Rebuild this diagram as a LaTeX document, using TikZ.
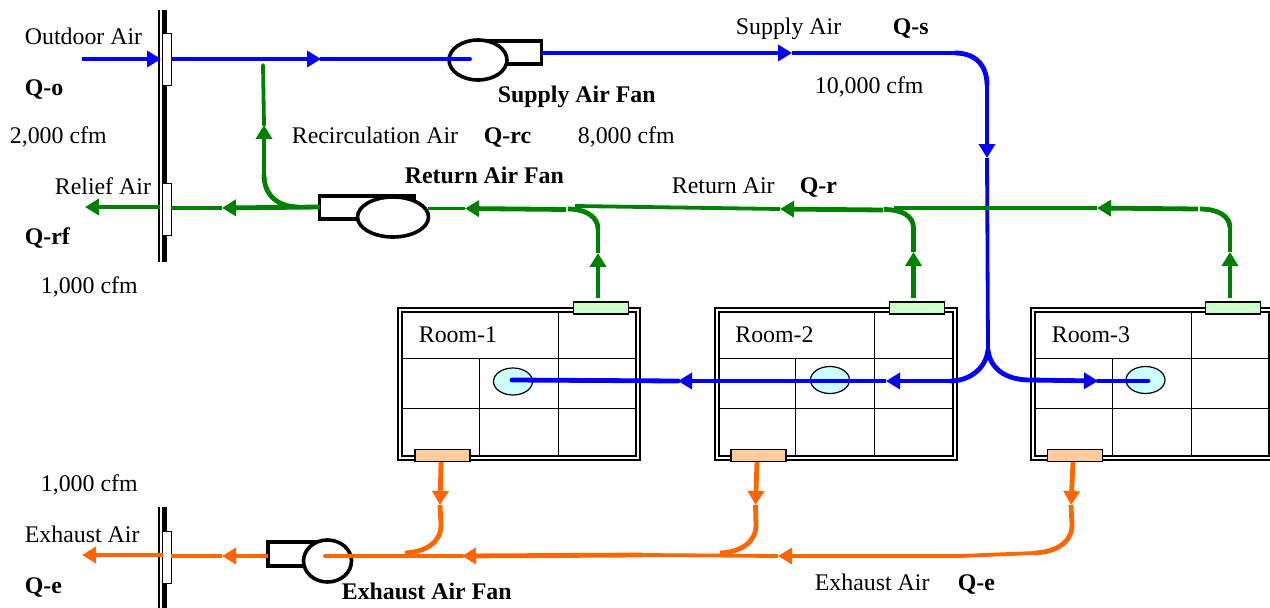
\documentclass[tikz,border=0pt]{standalone}
\usepackage{fontspec}
\setmainfont{Liberation Serif}
\usetikzlibrary{arrows.meta,shapes.geometric}
\definecolor{airblue}{HTML}{0000FF}
\definecolor{airgreen}{HTML}{008000}
\definecolor{airorange}{HTML}{FF6600}
\definecolor{grillegreen}{HTML}{CCFFCC}
\definecolor{grilleorange}{HTML}{FFCC99}
\definecolor{diffcyan}{HTML}{CCFFFF}
\tikzset{
  x=1pt,y=-1pt,
  lbl/.style={anchor=base west,inner sep=0pt,text=black,font=\fontsize{23.85}{26}\selectfont,xshift=-0.3pt,yshift=-1pt},
  lblb/.style={lbl,font=\fontsize{23.85}{26}\selectfont\bfseries},
  head/.style={-{Triangle[length=14pt,width=16pt]}},
  thick4/.style={line width=4.8pt},
  thin3/.style={line width=3.8pt},
  damper/.style={draw=black,fill=white,line width=1pt,minimum width=9pt,minimum height=52pt,inner sep=0pt,rectangle},
  roomouter/.style={draw=black,line width=2pt,minimum width=242pt,minimum height=152pt,inner sep=0pt,rectangle},
  roominner/.style={draw=black,line width=2pt,minimum width=234pt,minimum height=144pt,inner sep=0pt,rectangle},
  grid/.style={draw=black,line width=1pt},
  retgrille/.style={draw=black,fill=grillegreen,line width=1.2pt,minimum width=55pt,minimum height=12pt,inner sep=0pt,rectangle},
  exhgrille/.style={draw=black,fill=grilleorange,line width=1.2pt,minimum width=55pt,minimum height=12pt,inner sep=0pt,rectangle},
  diffuser/.style={draw=black,fill=diffcyan,line width=1.2pt,ellipse,minimum width=39pt,minimum height=27pt,inner sep=0pt},
  fanbox/.style={draw=black,fill=white,line width=3.6pt,rectangle,inner sep=0pt},
  fanwheel/.style={draw=black,fill=white,line width=3.6pt,ellipse,inner sep=0pt},
  wallthin/.style={draw=black,line width=2pt},
  wallthick/.style={draw=black,line width=5.5pt},
}
\newcommand{\makeroom}[5]{% name, x centre, text, return grille x, exhaust grille x
  \node[roomouter] (#1o) at (#2,383.5) {};
  \node[roominner] (#1i) at (#2,383.5) {};
  \coordinate (#1h1l) at (#2-117,358.5); \coordinate (#1h1r) at (#2+117,358.5);
  \coordinate (#1h2l) at (#2-117,408.5); \coordinate (#1h2r) at (#2+117,408.5);
  \coordinate (#1v1t) at (#2+39,311.5); \coordinate (#1v1b) at (#2+39,455.5);
  \coordinate (#1v2t) at (#2-40,358.5); \coordinate (#1v2b) at (#2-40,455.5);
  \draw[grid] (#1h1l) -- (#1h1r);
  \draw[grid] (#1h2l) -- (#1h2r);
  \draw[grid] (#1v1t) -- (#1v1b);
  \draw[grid] (#1v2t) -- (#1v2b);
  \node[retgrille] (#1ret) at (#4,308) {};
  \node[exhgrille] (#1exh) at (#5,455.5) {};
  \node[lbl] (#1lab) at (#2-100,341) {#3};
}
\begin{document}
\begin{tikzpicture}
\path[use as bounding box,clip] (0,0) rectangle (1270,608);
\fill[white] (0,0) rectangle (1270,608);

% walls
\coordinate (w1a) at (159,10); \coordinate (w1b) at (159,262);
\coordinate (w2a) at (164.5,10); \coordinate (w2b) at (164.5,262);
\coordinate (w3a) at (159,507); \coordinate (w3b) at (159,608);
\coordinate (w4a) at (164.5,507); \coordinate (w4b) at (164.5,608);
\draw[wallthin] (w1a) -- (w1b);
\draw[wallthick] (w2a) -- (w2b);
\draw[wallthin] (w3a) -- (w3b);
\draw[wallthick] (w4a) -- (w4b);
\node[damper] (dmpO) at (166.5,59) {};
\node[damper] (dmpR) at (166.5,209) {};
\node[damper] (dmpE) at (167,557) {};

% rooms
\makeroom{ra}{519}{Room-1}{601}{442.5}
\makeroom{rb}{835.5}{Room-2}{917}{758.5}
\makeroom{rc}{1152}{Room-3}{1233}{1075}
\node[diffuser] (diffA) at (513,381.5) {};
\node[diffuser] (diffB) at (830,380) {};
\node[diffuser] (diffC) at (1145.5,380) {};

% fans
\node[fanbox,minimum width=63pt,minimum height=23pt] (sfbox) at (510,52.5) {};
\node[fanwheel,minimum width=58pt,minimum height=40pt] (sfan) at (478,60) {};
\node[fanbox,minimum width=95pt,minimum height=23pt] (rfbox) at (367,207.5) {};
\node[fanwheel,minimum width=71pt,minimum height=40pt] (rfan) at (393,217) {};
\node[fanbox,minimum width=60pt,minimum height=24pt] (efbox) at (298,554) {};
\node[fanwheel,minimum width=48pt,minimum height=42pt] (efan) at (327.5,561) {};

% supply (blue)
\coordinate (oaStart) at (82,59);
\coordinate (oaTip) at (161,59);
\coordinate (oaOut) at (171,59);
\coordinate (oaMid) at (321,59);
\coordinate (sfIn) at (470,59);
\coordinate (sfOut) at (541,53);
\coordinate (saTip) at (792,53);
\coordinate (saBend) at (955,53);
\coordinate (saDown) at (987,85);
\coordinate (saVTip) at (987,158);
\coordinate (saSplit) at (988,350);
\coordinate (toLeft) at (950,381);
\coordinate (blTipA) at (886,381);
\coordinate (blTipB) at (678,381);
\coordinate (diffAin) at (512,380);
\coordinate (toRight) at (1030,380);
\coordinate (brTip) at (1098,381);
\coordinate (diffCin) at (1148,381);
\draw[airblue,thick4,head] (oaStart) -- (oaTip);
\draw[airblue,thick4,head] (oaOut) -- (oaMid);
\draw[airblue,thin3,line cap=round] (oaMid) -- (sfIn);
\draw[airblue,thick4,head] (sfOut) -- (saTip);
\draw[airblue,thin3] (saTip) -- (saBend);
\draw[airblue,thick4] (saBend) .. controls (975,53) and (987,65) .. (saDown);
\draw[airblue,thick4,head] (saDown) -- (saVTip);
\draw[airblue,thin3] (saVTip) -- (saSplit);
\draw[airblue,thick4] (saSplit) .. controls (986,368) and (970,381) .. (toLeft);
\draw[airblue,thick4,head] (toLeft) -- (blTipA);
\draw[airblue,thick4,head] (blTipA) -- (blTipB);
\draw[airblue,thick4,line cap=round] (blTipB) -- (diffAin);
\draw[airblue,thick4] (saSplit) .. controls (990,368) and (1005,380) .. (toRight);
\draw[airblue,thick4,head] (toRight) -- (brTip);
\draw[airblue,thick4,line cap=round] (brTip) -- (diffCin);

% return (green)
\coordinate (rcUp) at (1230,298);  \coordinate (rcTip) at (1230,252);
\coordinate (rcBend) at (1230,228); \coordinate (rcEnd) at (1200,209);
\coordinate (rbUp) at (913.5,298); \coordinate (rbTip) at (913.5,252);
\coordinate (rbBend) at (913.5,228); \coordinate (rbEnd) at (884,209.5);
\coordinate (raUp) at (598,298); \coordinate (raTip) at (598,253);
\coordinate (raBend) at (598,229); \coordinate (raEnd) at (568,209);
\coordinate (m1) at (1198,209); \coordinate (m2) at (1097,208);
\coordinate (m3) at (894,208);
\coordinate (m4) at (883,210); \coordinate (m5) at (780,209);
\coordinate (m6) at (575,206);
\coordinate (m7) at (566,209.5); \coordinate (m8) at (465,208.5);
\coordinate (m9) at (428,208.5);
\coordinate (rfOut) at (320,207); \coordinate (g1) at (222,208);
\coordinate (g2) at (171,208);
\coordinate (g3) at (160,207); \coordinate (g4) at (85,207);
\coordinate (rcStart) at (298,207); \coordinate (rcV) at (264,175);
\coordinate (rcVTip) at (264,125); \coordinate (rcEndUp) at (263,65);
\draw[airgreen,thick4,head] (rcUp) -- (rcTip);
\draw[airgreen,thick4] (rcTip) -- (rcBend);
\draw[airgreen,thick4] (rcBend) .. controls (1230,216) and (1218,209) .. (rcEnd);
\draw[airgreen,thick4,head] (rbUp) -- (rbTip);
\draw[airgreen,thick4] (rbTip) -- (rbBend);
\draw[airgreen,thick4] (rbBend) .. controls (913.5,216) and (902,209.5) .. (rbEnd);
\draw[airgreen,thick4,head] (raUp) -- (raTip);
\draw[airgreen,thick4] (raTip) -- (raBend);
\draw[airgreen,thick4] (raBend) .. controls (598,217) and (586,209) .. (raEnd);
\draw[airgreen,thick4,head] (m1) -- (m2);
\draw[airgreen,thin3] (m2) -- (m3);
\draw[airgreen,thick4,head] (m4) -- (m5);
\draw[airgreen,thin3] (m5) -- (m6);
\draw[airgreen,thick4,head] (m7) -- (m8);
\draw[airgreen,thin3] (m8) -- (m9);
\draw[airgreen,thick4,head] (rfOut) -- (g1);
\draw[airgreen,thin3] (g1) -- (g2);
\draw[airgreen,thick4,head] (g3) -- (g4);
\draw[airgreen,thick4] (rcStart) .. controls (278,207) and (264,195) .. (rcV);
\draw[airgreen,thick4,head] (rcV) -- (rcVTip);
\draw[airgreen,thin3,line cap=round] (rcVTip) -- (rcEndUp);

% exhaust (orange)
\coordinate (e3a) at (1073,462); \coordinate (e3t) at (1071,505);
\coordinate (e3b) at (1072,525); \coordinate (e3c) at (1035,553);
\coordinate (e2a) at (757,462); \coordinate (e2t) at (755.5,505);
\coordinate (e2b) at (756,525); \coordinate (e2c) at (720,553);
\coordinate (e1a) at (441,462); \coordinate (e1t) at (440,505);
\coordinate (e1b) at (441,525); \coordinate (e1c) at (405,553);
\coordinate (em1) at (960,556); \coordinate (em2) at (778,556);
\coordinate (em3) at (642,555); \coordinate (em4) at (462,556);
\coordinate (efIn) at (325,556);
\coordinate (efOut) at (268,556); \coordinate (ex1) at (222,556);
\coordinate (ex2) at (171,556);
\coordinate (ex3) at (163,555); \coordinate (ex4) at (82,555);
\foreach \p/\q/\r/\s/\ca/\cb in {e1a/e1t/e1b/e1c/{441,543}/{425,552},e2a/e2t/e2b/e2c/{756,543}/{740,552},e3a/e3t/e3b/e3c/{1072,543}/{1055,552}}{
  \draw[airorange,thick4,head] (\p) -- (\q);
  \draw[airorange,thick4] (\q) -- (\r);
  \draw[airorange,thick4] (\r) .. controls (\ca) and (\cb) .. (\s);
}
\draw[airorange,thin3] (e3c) -- (em1);
\draw[airorange,thick4,head] (em1) -- (em2);
\draw[airorange,thin3] (em2) -- (em3);
\draw[airorange,thick4,head] (em3) -- (em4);
\draw[airorange,thin3,line cap=round] (em4) -- (efIn);
\draw[airorange,thick4,head] (efOut) -- (ex1);
\draw[airorange,thin3] (ex1) -- (ex2);
\draw[airorange,thick4,head] (ex3) -- (ex4);

% labels
\node[lbl] (t1) at (25,43) {Outdoor Air};
\node[lblb] (t2) at (25,94) {Q-o};
\node[lbl] (t3) at (10,142) {2,000 cfm};
\node[lbl] (t4) at (55,193) {Relief Air};
\node[lblb] (t5) at (25,243) {Q-rf};
\node[lbl] (t6) at (41,292) {1,000 cfm};
\node[lbl] (t7) at (292,142) {Recirculation Air};
\node[lblb] (t8) at (484,142) {Q-rc};
\node[lbl] (t9) at (578,142) {8,000 cfm};
\node[lblb] (t10) at (405,182) {Return Air Fan};
\node[lblb] (t11) at (498,101) {Supply Air Fan};
\node[lbl] (t12) at (736,33) {Supply Air};
\node[lblb] (t13) at (893,33) {Q-s};
\node[lbl] (t14) at (815,92) {10,000 cfm};
\node[lbl] (t15) at (672,192) {Return Air};
\node[lblb] (t16) at (800,192) {Q-r};
\node[lbl] (t17) at (41,490) {1,000 cfm};
\node[lbl] (t18) at (25,541) {Exhaust Air};
\node[lblb] (t19) at (25,592) {Q-e};
\node[lblb] (t20) at (342,598) {Exhaust Air Fan};
\node[lbl] (t21) at (815,589) {Exhaust Air};
\node[lblb] (t22) at (958,589) {Q-e};
\end{tikzpicture}
\end{document}
